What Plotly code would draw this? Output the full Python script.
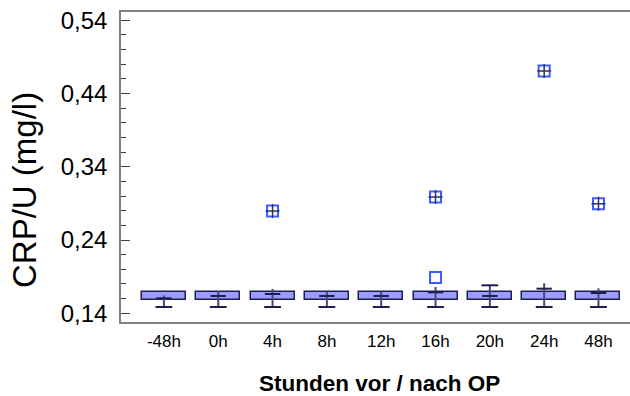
import plotly.graph_objects as go

categories = ["-48h", "0h", "4h", "8h", "12h", "16h", "20h", "24h", "48h"]
box_low = [0.1577] * 9
box_high = [0.1686] * 9
whisker_low = [0.1486] * 9
whisker_high = [0.1643, 0.1704, 0.1732, 0.1695, 0.1695, 0.1759, 0.1782, 0.1809, 0.1741]
mean_val = [0.1605, 0.1636, 0.1663, 0.1636, 0.1636, 0.1686, 0.1636, 0.1736, 0.1677]
upper_cap = [None, None, None, None, None, None, 0.1782, None, None]

outlier_x = ["4h", "16h", "24h", "48h"]
outlier_y = [0.2796, 0.2987, 0.4706, 0.2895]
far_x = ["16h"]
far_y = [0.1888]

y_title = "CRP/U (mg/l)"
x_title = "Stunden vor / nach OP"

FONT = "Liberation Sans, Arial, sans-serif"
DARK = "#1e1e50"
WHISK = "#4a4a70"

fig = go.Figure()

fig.add_trace(go.Bar(
    x=categories, y=[h - l for h, l in zip(box_high, box_low)], base=box_low,
    width=0.81, marker=dict(color="#9a9cff", line=dict(color=DARK, width=1.5)),
    hoverinfo="skip", showlegend=False))

fig.add_trace(go.Scatter(
    x=categories, y=mean_val, mode="markers",
    marker=dict(symbol="line-ew", size=11, line=dict(color=DARK, width=2)),
    error_y=dict(type="data", symmetric=False,
                 array=[h - m for h, m in zip(whisker_high, mean_val)],
                 arrayminus=[m - l for m, l in zip(mean_val, whisker_low)],
                 width=0, thickness=2, color=WHISK),
    showlegend=False))

fig.add_trace(go.Scatter(
    x=categories, y=whisker_low, mode="markers",
    marker=dict(symbol="line-ew", size=12, line=dict(color=DARK, width=2)),
    showlegend=False))

fig.add_trace(go.Scatter(
    x=categories, y=upper_cap, mode="markers",
    marker=dict(symbol="line-ew", size=12, line=dict(color=DARK, width=2)),
    showlegend=False))

fig.add_trace(go.Scatter(
    x=outlier_x + far_x, y=outlier_y + far_y, mode="markers",
    marker=dict(symbol="square-open", size=11, color="#3c5cff", line=dict(width=2)),
    showlegend=False))

fig.add_trace(go.Scatter(
    x=outlier_x, y=outlier_y, mode="markers",
    marker=dict(symbol="cross-thin-open", size=10, color="#303060", line=dict(width=1.5, color="#303060")),
    showlegend=False))

fig.update_layout(
    width=630, height=396,
    margin=dict(l=121, r=0, t=12, b=74),
    paper_bgcolor="white", plot_bgcolor="white",
    separators=",.",
    bargap=0,
    font=dict(family=FONT, color="black"),
    xaxis=dict(
        type="category", categoryorder="array", categoryarray=categories,
        range=[-0.79, 8.58], showgrid=False, zeroline=False,
        showline=True, linecolor="#808080", linewidth=2, mirror=True,
        ticks="", tickfont=dict(size=17, family=FONT), ticklabelstandoff=3,
    ),
    yaxis=dict(
        range=[0.1281, 0.5513], showgrid=False, zeroline=False,
        showline=True, linecolor="#808080", linewidth=1.5, mirror=False,
        tick0=0.14, dtick=0.1, tickformat=".2f",
        ticks="inside", ticklen=9, tickcolor="#404040", tickwidth=1,
        minor=dict(tick0=0.14, dtick=0.02, ticks="inside", ticklen=5, tickcolor="#404040", tickwidth=1),
        tickfont=dict(size=24, family=FONT), ticklabelstandoff=7,
    ),
    annotations=[
        dict(text=y_title, xref="paper", yref="paper", x=-0.1906, y=0.4258,
             xanchor="center", yanchor="middle", textangle=-90, showarrow=False,
             font=dict(size=33, family=FONT, color="black")),
        dict(text="<b>" + x_title + "</b>", xref="paper", yref="paper", x=0.5069, y=-0.1968,
             xanchor="center", yanchor="middle", showarrow=False,
             font=dict(size=22.5, family=FONT, color="black")),
    ],
)

fig.write_html("out.html")
